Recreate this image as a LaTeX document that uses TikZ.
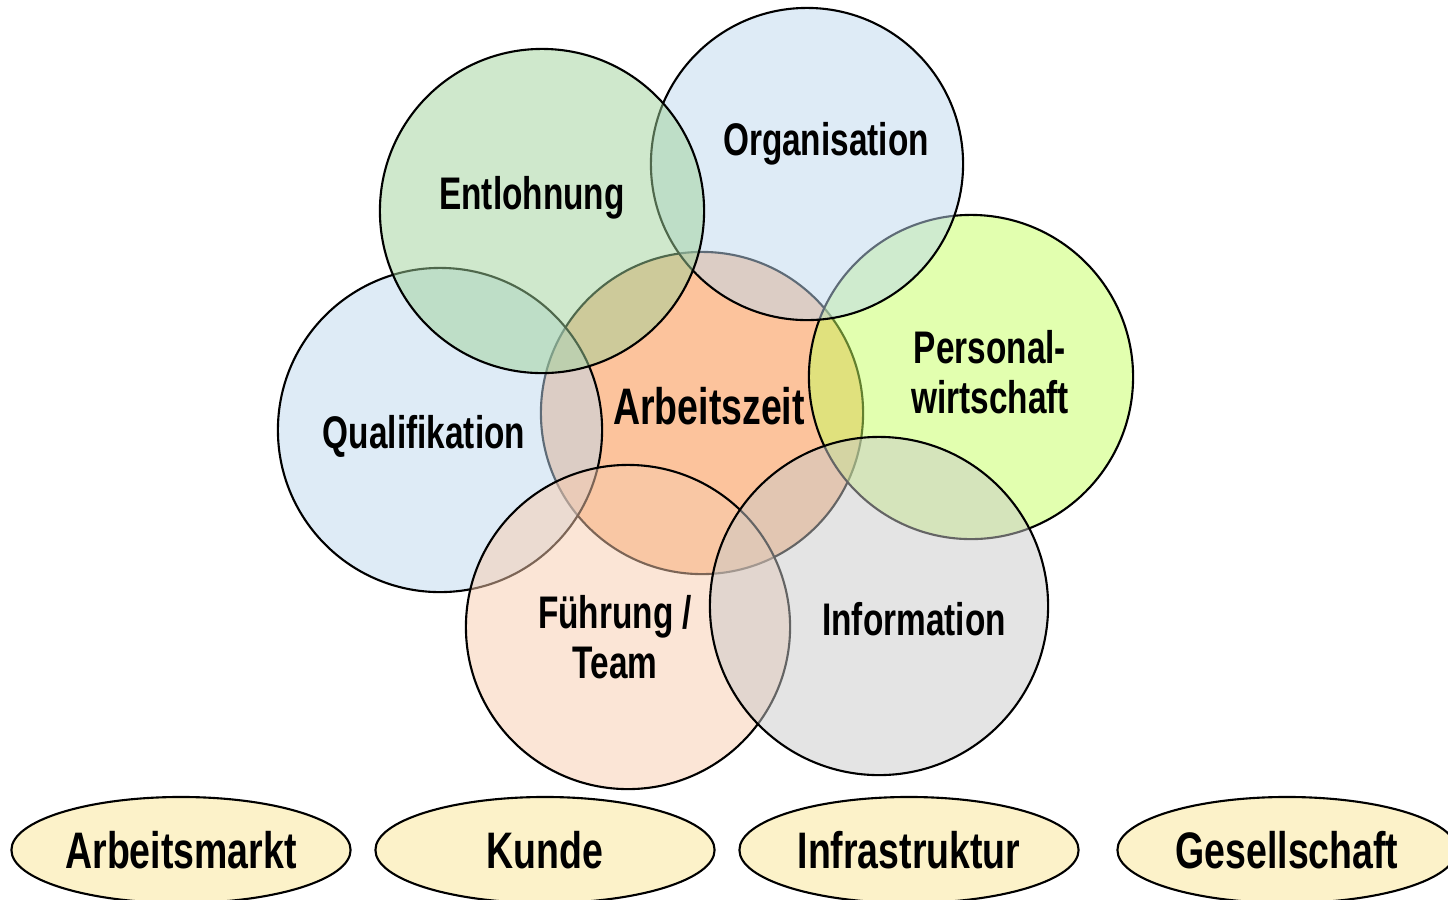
\documentclass[tikz,border=0pt]{standalone}
\usepackage{fontspec}
\newfontfamily\diagfont[FakeStretch=0.73]{Liberation Sans}
\usetikzlibrary{shapes.geometric}
\definecolor{azorange}{HTML}{FCC39C}
\definecolor{orgblue}{HTML}{BDD7EE}
\definecolor{entgreen}{HTML}{9FD199}
\definecolor{pwlime}{HTML}{C5FF5F}
\definecolor{infgrey}{HTML}{C9C9C9}
\definecolor{fuepeach}{HTML}{F8CBAD}
\definecolor{envyellow}{HTML}{FCF2C9}
\begin{document}
\begin{tikzpicture}[x=0.01cm,y=-0.01cm,
    topic/.style={circle,draw=black,line width=0.6pt,fill opacity=0.5,inner sep=0pt},
    envbox/.style={ellipse,draw=black,line width=0.6pt,fill=envyellow,
      minimum width=3.39cm,minimum height=1.06cm,inner sep=0pt,
      font=\diagfont\bfseries\fontsize{14.6}{16}\selectfont},
    lbl/.style={align=center,font=\diagfont\bfseries\fontsize{13}{14.2}\selectfont}]
  \useasboundingbox (0,0) rectangle (1448,899);
  % circles, back to front
  \node[topic,fill=azorange,fill opacity=1,minimum size=3.22cm] (az) at (702,413) {};
  \node[topic,fill=pwlime,minimum size=3.24cm] (pw) at (971,377) {};
  \node[topic,fill=orgblue,minimum size=3.12cm] (org) at (807,164) {};
  \node[topic,fill=orgblue,minimum size=3.24cm] (qual) at (440,430) {};
  \node[topic,fill=entgreen,minimum size=3.24cm] (ent) at (542,211) {};
  \node[topic,fill=fuepeach,minimum size=3.24cm] (fue) at (628,627) {};
  \node[topic,fill=infgrey,minimum size=3.38cm] (inf) at (879,606) {};
  % labels
  \node[lbl,font=\diagfont\bfseries\fontsize{14.6}{16}\selectfont] (azl) at (709,406) {Arbeitszeit};
  \node[lbl] (orgl) at (826,144) {Organisation};
  \node[lbl] (entl) at (532,198) {Entlohnung};
  \node[lbl] (pwl) at (990,372) {Personal-\\wirtschaft};
  \node[lbl] (quall) at (424,436) {Qualifikation};
  \node[lbl] (fuel) at (615,637) {F\"uhrung /\\Team};
  \node[lbl] (infl) at (914,619) {Information};
  % environment
  \node[envbox] (amarkt) at (181,850) {Arbeitsmarkt};
  \node[envbox] (kunde) at (545,850) {Kunde};
  \node[envbox] (infra) at (909,850) {Infrastruktur};
  \node[envbox] (ges) at (1287,850) {Gesellschaft};
\end{tikzpicture}
\end{document}
